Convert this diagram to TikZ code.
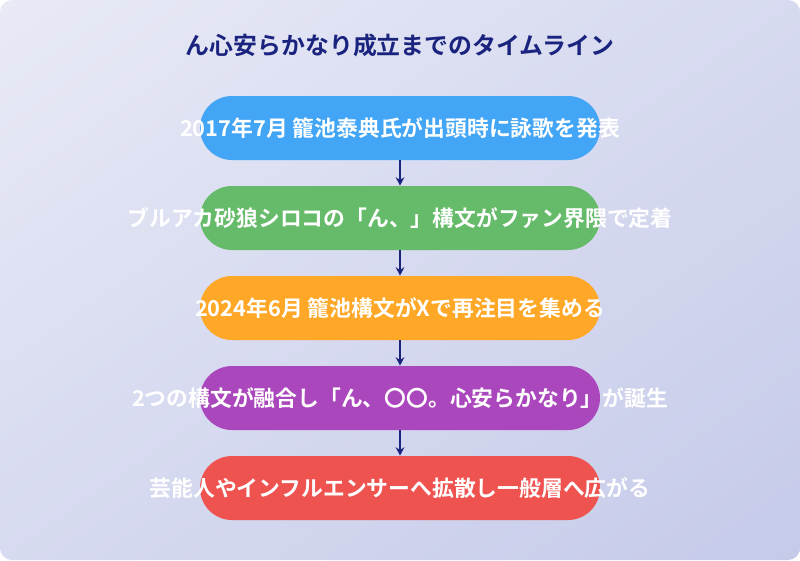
\documentclass[tikz,border=0pt]{standalone}
\usepackage{fontspec}
\setmainfont{Noto Sans CJK JP}[BoldFont={* Bold}]
\usetikzlibrary{positioning,shadings,arrows.meta}
\definecolor{navy}{HTML}{1A237E}
\definecolor{bgA}{HTML}{E8EAF6}
\definecolor{bgB}{HTML}{C5CAE9}
\definecolor{cBlue}{HTML}{42A5F5}
\definecolor{cGreen}{HTML}{66BB6A}
\definecolor{cOrange}{HTML}{FFA726}
\definecolor{cPurple}{HTML}{AB47BC}
\definecolor{cRed}{HTML}{EF5350}
\newcommand{\steptext}[1]{\makebox[0pt]{#1}}
\tikzset{
  pill/.style={rounded corners=32*0.025cm, minimum width=400*0.025cm,
    minimum height=64*0.025cm, inner sep=0pt, fill=#1, text=white,
    font=\bfseries\fontsize{15.5}{18}\selectfont},
  link/.style={navy, line width=1.5pt, -{Stealth[length=6pt,width=6pt]}}
}
\begin{document}
\begin{tikzpicture}[x=0.025cm, y=-0.025cm]
    % Background
    \shade[upper left=bgA, lower right=bgB, upper right=bgA!50!bgB,
        lower left=bgA!50!bgB, rounded corners=12*0.025cm]
        (0,0) rectangle (800,560);
    \useasboundingbox (0,0) rectangle (800,560);

    % Title
    \node[text=navy, font=\bfseries\fontsize{17}{20}\selectfont] (title) at (400,45)
        {ん心安らかなり成立までのタイムライン};

    % Timeline steps
    \node[pill=cBlue] (s1) at (400,128) {\steptext{2017年7月 籠池泰典氏が出頭時に詠歌を発表}};
    \node[pill=cGreen] (s2) at (400,218) {\steptext{ブルアカ砂狼シロコの「ん、」構文がファン界隈で定着}};
    \node[pill=cOrange] (s3) at (400,308) {\steptext{2024年6月 籠池構文がXで再注目を集める}};
    \node[pill=cPurple] (s4) at (400,398) {\steptext{2つの構文が融合し「ん、〇〇。心安らかなり」が誕生}};
    \node[pill=cRed] (s5) at (400,488) {\steptext{芸能人やインフルエンサーへ拡散し一般層へ広がる}};

    % Arrows
    \foreach \a/\b in {s1/s2, s2/s3, s3/s4, s4/s5}
        \draw[link] (\a) -- (\b);
\end{tikzpicture}
\end{document}
